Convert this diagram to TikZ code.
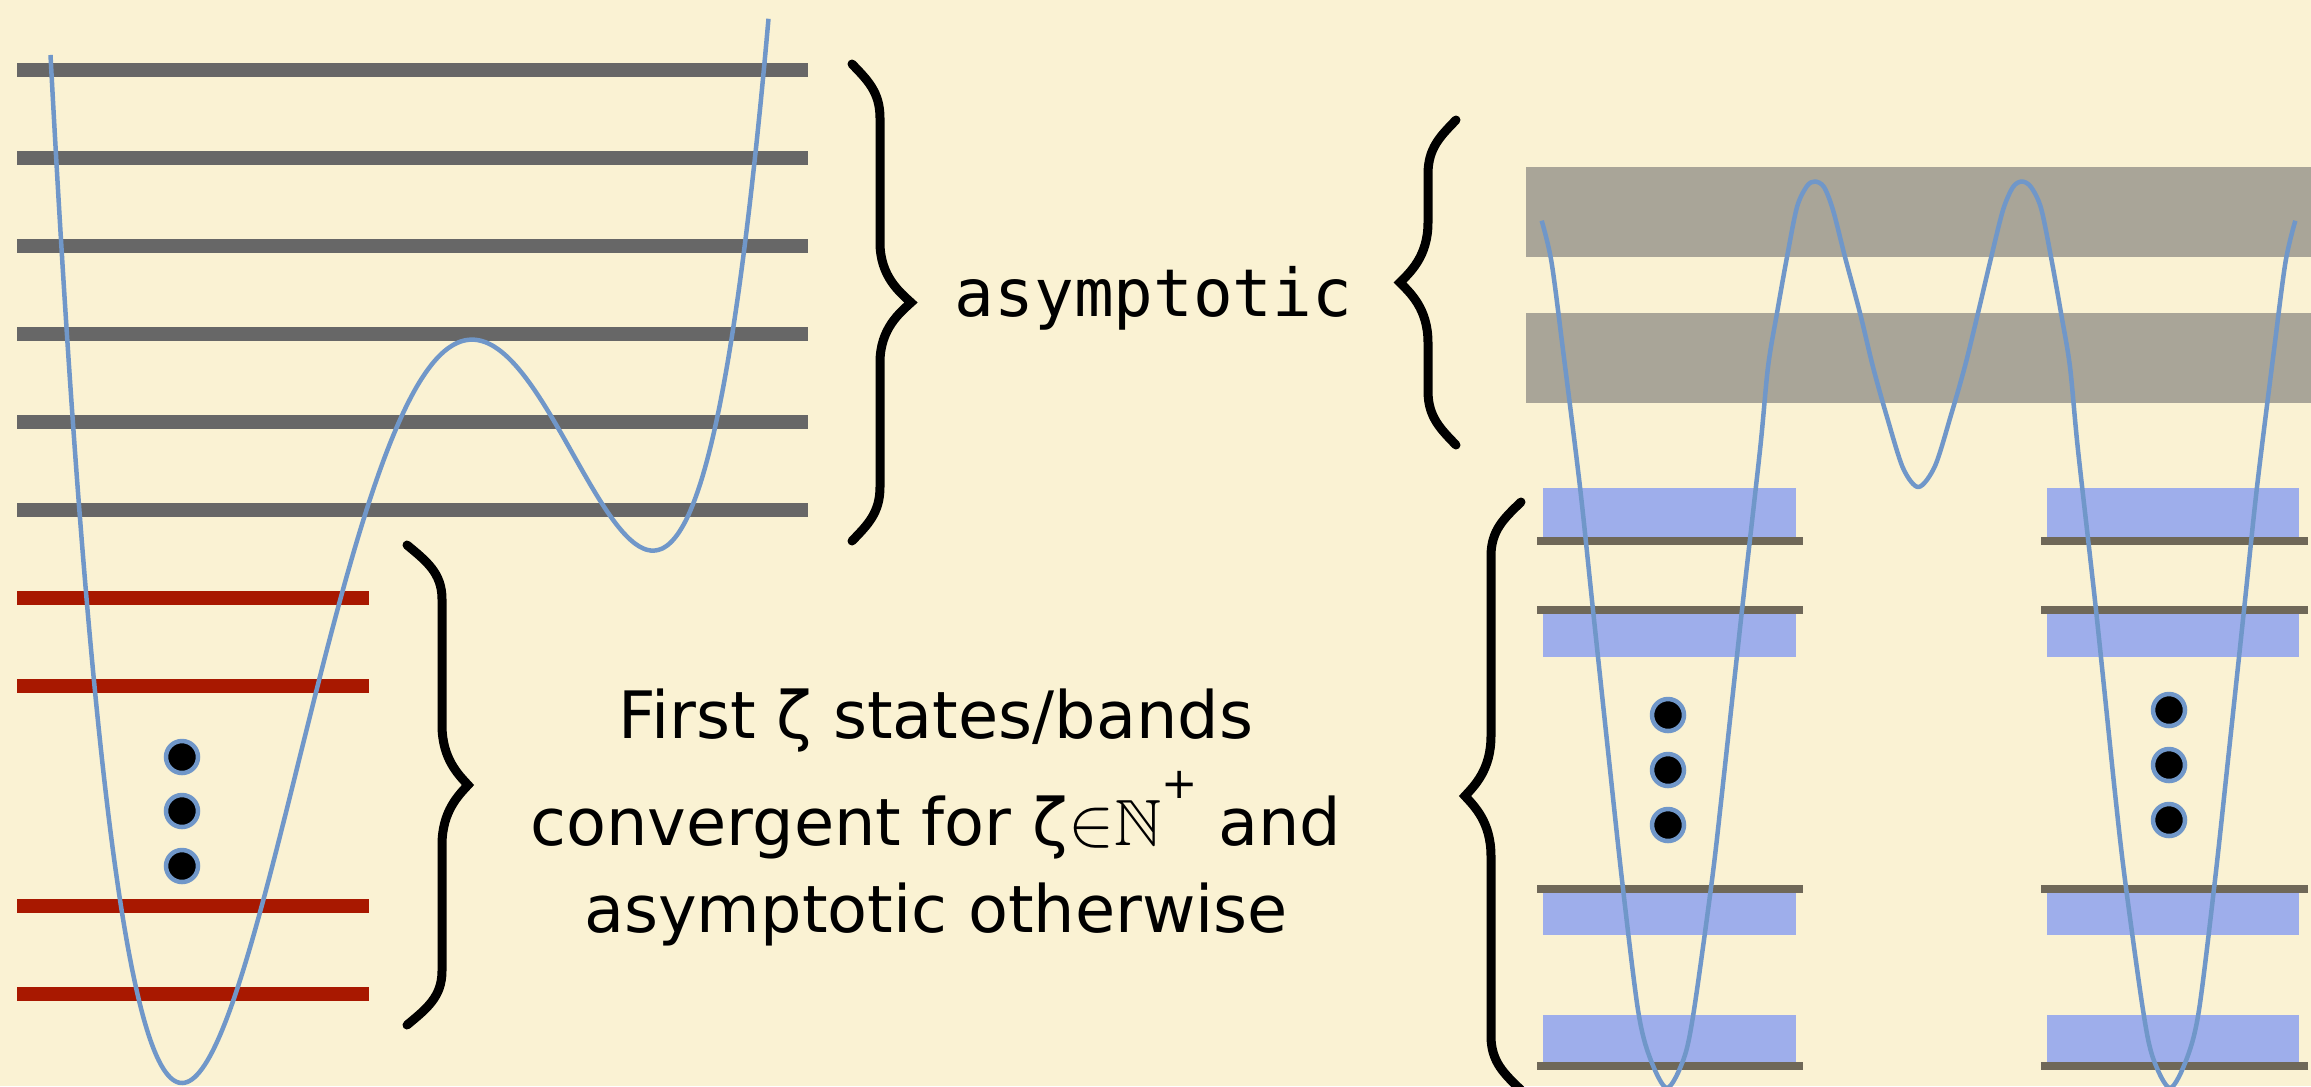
\documentclass[tikz,border=0pt]{standalone}
\usepackage{fontspec}
\usepackage{amssymb}
\setmainfont{DejaVu Sans}
\newfontfamily\monofont{DejaVu Sans Mono}
\definecolor{bgcol}{HTML}{FAF2D3}
\definecolor{grayline}{HTML}{676767}
\definecolor{redline}{HTML}{A81800}
\definecolor{curveblue}{HTML}{7097C9}
\definecolor{bandgray}{HTML}{A9A598}
\definecolor{rectblue}{HTML}{9EAEEB}
\definecolor{darkline}{HTML}{6F6858}
\newcommand\mybrace[5]{%
  \draw[bracestyle] (#1,#4) .. controls ({#1+0.55*(#2-#1)},{#4+16}) and (#2,{#4+28}) .. (#2,{#4+54})
   -- (#2,{(#4+#5)/2-60}) .. controls (#2,{(#4+#5)/2-26}) and ({#3-0.35*(#3-#2)},{(#4+#5)/2-10}) .. (#3,{(#4+#5)/2})
   .. controls ({#3-0.35*(#3-#2)},{(#4+#5)/2+10}) and (#2,{(#4+#5)/2+26}) .. (#2,{(#4+#5)/2+60})
   -- (#2,{#5-54}) .. controls (#2,{#5-28}) and ({#1+0.55*(#2-#1)},{#5-16}) .. (#1,#5);}
\tikzset{
  declare function={lpot(\s)=1083-56.1*(0.25*(\s)*(\s)*(\s)*(\s)-2.53667*(\s)*(\s)*(\s)+6.8295*(\s)*(\s));},
  potential/.style={draw=curveblue, line width=1.35pt, line join=round},
  bracestyle/.style={draw=black, line width=2.7pt, line cap=round, line join=miter},
  dotnode/.style={circle, fill=black, draw=curveblue, line width=1.35pt, minimum size=9.6pt, inner sep=0pt},
  midtext/.style={font=\fontsize{19.6}{24}\selectfont, inner sep=0pt, anchor=base},
  monotext/.style={font=\monofont\fontsize{19.8}{24}\selectfont, inner sep=0pt, anchor=base}
}
\begin{document}
\begin{tikzpicture}[x=0.3pt,y=-0.3pt]
\useasboundingbox (0,0) rectangle (2311,1086);
\fill[bgcol] (0,0) rectangle (2311,1086);
% left: gray levels
\foreach \c in {70,158,246,334,422,510}
  \fill[grayline] (17,\c-7) rectangle (808,\c+7);
% left: red levels
\foreach \c in {597.5,685.5,905.5,993.5}
  \fill[redline] (17,\c-7) rectangle (369,\c+7);
% left potential (quartic)
\draw[potential] plot[domain=50.5:768.5, samples=300, smooth, variable=\x] (\x,{lpot((\x-182)/100)});
% right: bands
\fill[bandgray] (1526,166.5) rectangle (2311,256.5);
\fill[bandgray] (1526,312.5) rectangle (2311,402.5);
% right: blue rectangles and dark levels
\foreach \xa/\xb/\la/\lb in {1543/1796/1537/1803, 2047/2299/2041/2308}{
  \fill[rectblue] (\xa,488) rectangle (\xb,537);
  \fill[rectblue] (\xa,613) rectangle (\xb,657);
  \fill[rectblue] (\xa,893) rectangle (\xb,935);
  \fill[rectblue] (\xa,1015) rectangle (\xb,1062);
  \foreach \c in {541,610,888.5,1066}
    \fill[darkline] (\la,\c-4) rectangle (\lb,\c+4);
}
% right potential
\draw[potential] plot[smooth, tension=0.5] coordinates {
 (1541.7,220.7) (1551.5,262) (1563,350) (1580,487) (1593,610) (1609,760) (1622,880) (1638,1010) (1650,1058) (1667,1088)
 (1684,1058) (1694,1010) (1712,880) (1722,793) (1742,610) (1760,450) (1768,367) (1777,313) (1787,257) (1797,207) (1807,186) (1815,181.5)
 (1824,187) (1833,210) (1845,257) (1860,313) (1873,367) (1887,417) (1903,468) (1918.5,487)
 (1935,466) (1951,415) (1965,366) (1978,313) (1991,258) (2003,210) (2013,187) (2022,181.5)
 (2031,187) (2041,208) (2051,257) (2061,313) (2070,367) (2078,450) (2096,610) (2115,793) (2125,880) (2143,1010) (2153,1058) (2170,1088)
 (2187,1058) (2199,1010) (2215,880) (2228,760) (2244,610) (2257,487) (2274,350) (2285.5,262) (2295.3,220.7)};
% dots
\node[dotnode] (d1) at (182,757) {};
\node[dotnode] (d2) at (182,811) {};
\node[dotnode] (d3) at (182,866) {};
\node[dotnode] (e1) at (1668,715) {};
\node[dotnode] (e2) at (1668,770) {};
\node[dotnode] (e3) at (1668,825) {};
\node[dotnode] (f1) at (2169,710) {};
\node[dotnode] (f2) at (2169,765) {};
\node[dotnode] (f3) at (2169,820) {};
% braces
\mybrace{852}{880}{911}{64}{541}
\mybrace{407}{442}{468}{545}{1025}
\mybrace{1456}{1428}{1400}{120}{445}
\mybrace{1521}{1491}{1465}{502}{1090}
% texts
\node[monotext] (asy) at (1153.5,316) {asymptotic};
\node[midtext] (t1) at (936,738) {First ζ states/bands};
\node[midtext] (t2) at (936,845) {convergent for ζ$\mathord{\in}\mathbb{N}$\raisebox{14pt}{\fontsize{13}{13}\selectfont +} and};
\node[midtext] (t3) at (936,932) {asymptotic otherwise};
\end{tikzpicture}
\end{document}
